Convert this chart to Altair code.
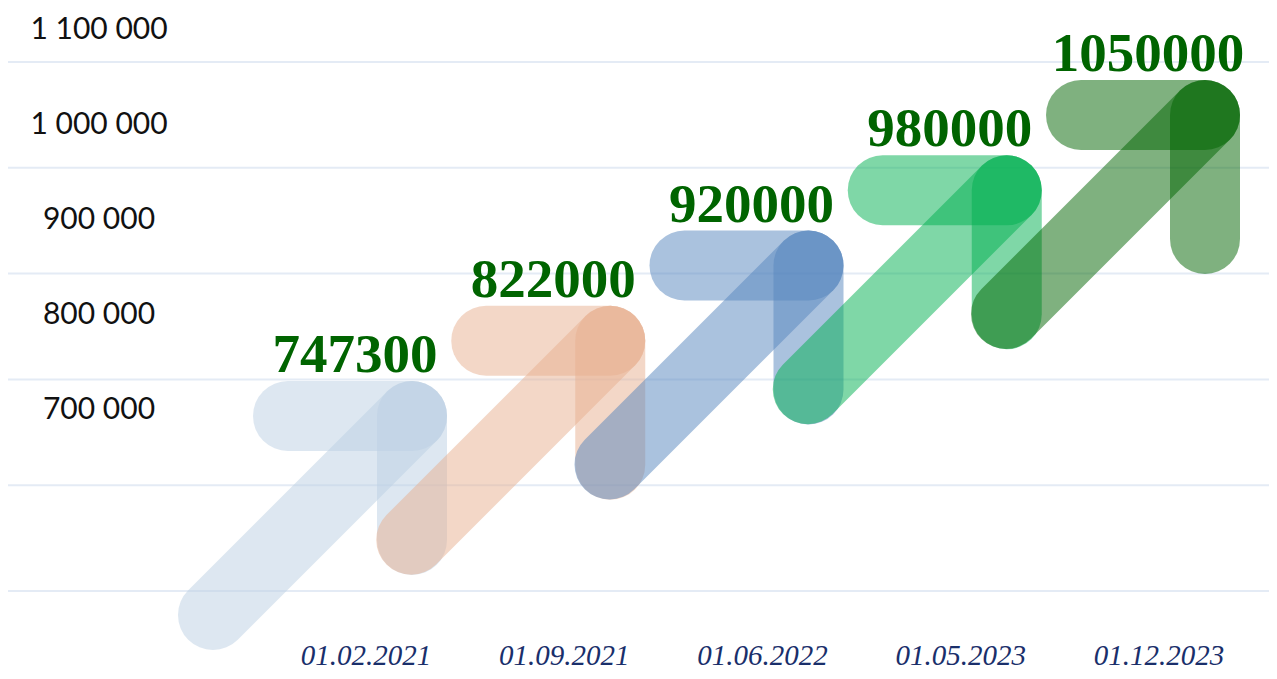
import altair as alt
import pandas as pd

# ---------------- data ----------------
dates = ["01.02.2021", "01.09.2021", "01.06.2022", "01.05.2023", "01.12.2023"]
values = [747300, 822000, 920000, 980000, 1050000]
tick_values = [1100000, 1000000, 900000, 800000, 700000]
tick_labels = ["1 100 000", "1 000 000", "900 000", "800 000", "700 000"]
grid_values = [1100000, 1000000, 900000, 800000, 700000, 600000]

# ---------------- style / layout ----------------
arrow_colors = ["#bcd0e4", "#e8b090", "#5585bd", "#00b050", "#006400"]
W, H = 1261, 663                 # drawing area (page coords 8..1269, 8..671)
TIP_X0, STEP_X = 412, 198.25     # arrow tip layout (page px)
TIP_Y0, STEP_Y = 416, 75.25
DIAG, BAR, STROKE = 199, 124, 70
LBL_DX, LBL_DY = -57, -44        # value label offset from tip (baseline)
DATE_DX, DATE_Y = -46, 665
GRID_TOP, GRID_STEP = 62, 105.8  # px of first gridline, px per 100 000
YLBL_TOP, YLBL_STEP = 39, 95     # baseline of first y label, px per 100 000

# ---------------- tables ----------------
segs = []
for i, d in enumerate(dates):
    tx = TIP_X0 + STEP_X * i
    ty = TIP_Y0 - STEP_Y * i
    segs.append(dict(date=d, order=3 * i, x=tx - DIAG, y=ty + DIAG, x2=tx, y2=ty))
    segs.append(dict(date=d, order=3 * i + 1, x=tx - BAR, y=ty, x2=tx, y2=ty))
    segs.append(dict(date=d, order=3 * i + 2, x=tx, y=ty, x2=tx, y2=ty + BAR))
seg_df = pd.DataFrame(segs)

lbl_df = pd.DataFrame({
    "date": dates,
    "value": values,
    "label": [str(v) for v in values],
    "x": [TIP_X0 + STEP_X * i + LBL_DX for i in range(len(dates))],
    "y": [TIP_Y0 - STEP_Y * i + LBL_DY for i in range(len(dates))],
    "dx": [TIP_X0 + STEP_X * i + DATE_DX for i in range(len(dates))],
    "dy": [DATE_Y] * len(dates),
})

grid_df = pd.DataFrame({"v": grid_values})
ytick_df = pd.DataFrame({"v": tick_values, "label": tick_labels})

# ---------------- scales ----------------
xs = alt.Scale(domain=[8, 8 + W], nice=False, zero=False)
ys = alt.Scale(domain=[8, 8 + H], reverse=True, nice=False, zero=False)


def val_domain(top_px, step_px):
    top_v = 1100000 + (top_px - 8) / step_px * 100000
    bot_v = 1100000 - (8 + H - top_px) / step_px * 100000
    return [bot_v, top_v]


grid_scale = alt.Scale(domain=val_domain(GRID_TOP, GRID_STEP), nice=False, zero=False)
ylbl_scale = alt.Scale(domain=val_domain(YLBL_TOP, YLBL_STEP), nice=False, zero=False)

# ---------------- layers ----------------
grid = alt.Chart(grid_df).mark_rule(color="#e4ebf5", strokeWidth=2).encode(
    y=alt.Y("v:Q", scale=grid_scale, axis=None)
)

ylabels = alt.Chart(ytick_df).mark_text(
    font="Lato", fontSize=30, color="#111111", align="center", baseline="alphabetic"
).encode(
    x=alt.value(91),
    y=alt.Y("v:Q", scale=ylbl_scale, axis=None),
    text="label:N",
)

arrows = alt.Chart(seg_df).mark_rule(
    strokeWidth=STROKE, strokeCap="round", opacity=0.5
).encode(
    x=alt.X("x:Q", scale=xs, axis=None),
    y=alt.Y("y:Q", scale=ys, axis=None),
    x2="x2:Q",
    y2="y2:Q",
    color=alt.Color("date:N", scale=alt.Scale(domain=dates, range=arrow_colors), legend=None),
    order="order:Q",
)

value_labels = alt.Chart(lbl_df).mark_text(
    font="Liberation Serif", fontSize=55, fontWeight="bold", color="#006400",
    align="center", baseline="alphabetic"
).encode(
    x=alt.X("x:Q", scale=xs, axis=None),
    y=alt.Y("y:Q", scale=ys, axis=None),
    text="label:N",
)

date_labels = alt.Chart(lbl_df).mark_text(
    font="Liberation Serif", fontSize=29, fontStyle="italic", color="#1a2f6b",
    align="center", baseline="alphabetic"
).encode(
    x=alt.X("dx:Q", scale=xs, axis=None),
    y=alt.Y("dy:Q", scale=ys, axis=None),
    text="date:N",
)

chart = alt.layer(grid, ylabels, arrows, value_labels, date_labels).resolve_scale(
    x="independent", y="independent"
).properties(
    width=W, height=H, autosize=alt.AutoSizeParams(type="none"), padding=0,
    background="white",
).configure_view(stroke=None)

chart.save("out.html", embed_options={"renderer": "svg", "actions": False})
